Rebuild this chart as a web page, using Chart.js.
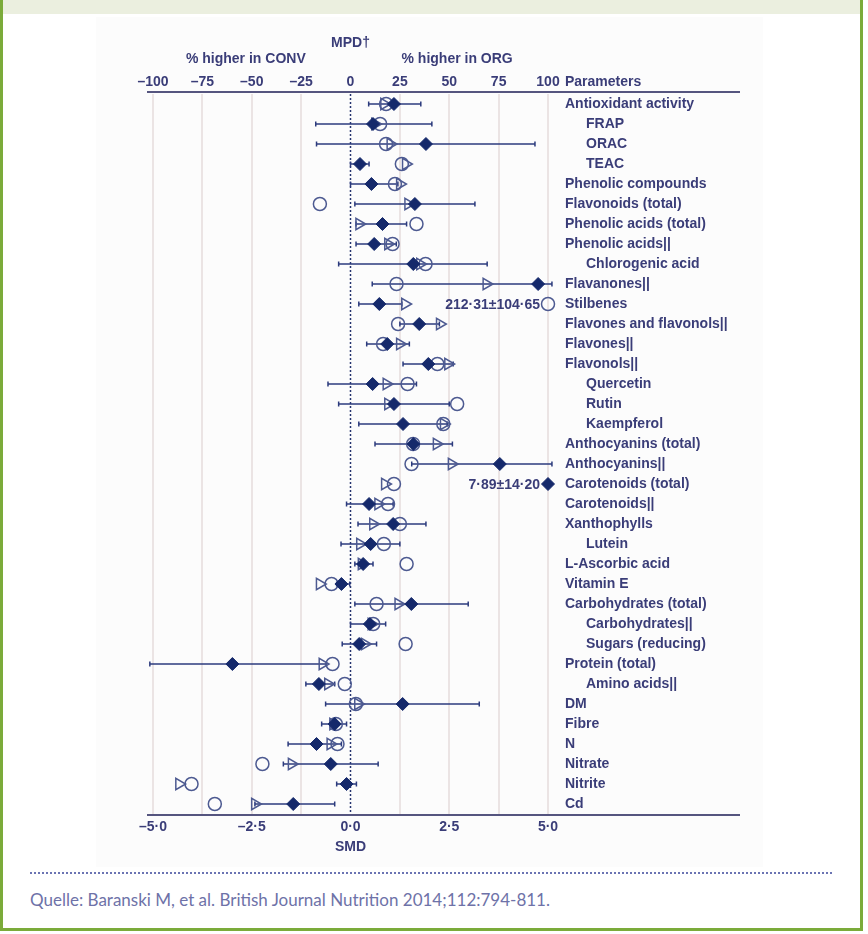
<!DOCTYPE html>
<html>
<head>
<meta charset="utf-8">
<script src="https://cdn.jsdelivr.net/npm/chart.js@4.4.1/dist/chart.umd.min.js"></script>
<style>
  html, body { margin: 0; padding: 0; background: #fff; }
  #frame { position: absolute; left: 0; top: 0; width: 863px; height: 931px; box-sizing: border-box;
           border-left: 3px solid #7bab3a; border-right: 3px solid #7bab3a; border-bottom: 3px solid #7bab3a; }
  #band { position: absolute; left: 3px; top: 0; width: 857px; height: 14px; background: #ebefdf; }
  #panel { position: absolute; left: 96px; top: 17px; width: 667px; height: 850px; background: #fcfcfc; }
  #chart { position: absolute; left: 0; top: 0; }
  #dots { position: absolute; left: 30px; top: 872px; width: 802px; border-top: 2px dotted #6b74b3; }
  #source { position: absolute; left: 30px; top: 889px; font: 17px Lato, "Open Sans", sans-serif; color: #6e72a8; }
</style>
</head>
<body>
<div id="frame"></div>
<div id="band"></div>
<div id="panel"></div>
<canvas id="chart" width="868" height="868"></canvas>
<div id="dots"></div>
<div id="source">Quelle: Baranski M, et al. British Journal Nutrition 2014;112:794-811.</div>

<script>
// parameters, top to bottom
const params = [
  'Antioxidant activity', 'FRAP', 'ORAC', 'TEAC', 'Phenolic compounds', 'Flavonoids (total)',
  'Phenolic acids (total)', 'Phenolic acids||', 'Chlorogenic acid', 'Flavanones||', 'Stilbenes',
  'Flavones and flavonols||', 'Flavones||', 'Flavonols||', 'Quercetin', 'Rutin', 'Kaempferol',
  'Anthocyanins (total)', 'Anthocyanins||', 'Carotenoids (total)', 'Carotenoids||', 'Xanthophylls',
  'Lutein', 'L-Ascorbic acid', 'Vitamin E', 'Carbohydrates (total)', 'Carbohydrates||',
  'Sugars (reducing)', 'Protein (total)', 'Amino acids||', 'DM', 'Fibre', 'N', 'Nitrate', 'Nitrite', 'Cd'
];
// sub-parameters (indented)
const subParams = ['FRAP', 'ORAC', 'TEAC', 'Chlorogenic acid', 'Quercetin', 'Rutin', 'Kaempferol',
  'Lutein', 'Carbohydrates||', 'Sugars (reducing)', 'Amino acids||'];

// weighted SMD (filled diamond) with 95% CI
const smd = [1.10, 0.57, 1.91, 0.24, 0.53, 1.63, 0.81, 0.60, 1.59, 4.75, 0.73, 1.74, 0.93, 1.97, 0.56, 1.10, 1.33,
  1.59, 3.78, 7.89, 0.47, 1.08, 0.51, 0.32, -0.23, 1.54, 0.49, 0.22, -2.99, -0.80, 1.32, -0.40, -0.86, -0.50, -0.10, -1.45];
const ciLow = [0.46, -0.88, -0.86, 0.00, 0.00, 0.11, 0.14, 0.14, -0.30, 0.55, 0.21, 1.25, 0.41, 1.33, -0.57, -0.30, 0.21,
  0.62, 1.55, null, -0.10, 0.19, -0.24, 0.11, -0.35, 0.11, 0.00, -0.21, -5.08, -1.13, -0.63, -0.73, -1.58, -1.70, -0.35, -2.42];
const ciHigh = [1.78, 2.06, 4.67, 0.47, 1.20, 3.15, 1.42, 1.16, 3.46, 5.10, 1.30, 2.25, 1.49, 2.60, 1.67, 2.50, 2.45,
  2.58, 5.10, null, 1.08, 1.91, 1.25, 0.57, -0.02, 2.98, 0.89, 0.66, -0.61, -0.40, 3.26, -0.10, -0.23, 0.70, 0.15, -0.40];
// unweighted SMD (open triangle)
const smdUnweighted = [0.85, 0.62, 1.01, 1.40, 1.25, 1.46, 0.22, 0.95, 1.76, 3.44, 1.38, 2.26, 1.25, 2.47, 0.91, 0.95, 2.36,
  2.18, 2.56, 0.87, 0.70, 0.57, 0.24, 0.28, -0.78, 1.21, 0.53, 0.36, -0.71, -0.57, 0.19, -0.44, -0.51, -1.49, -4.34, -2.42];
// mean percentage difference, % (open circle)
const mpd = [18, 15, 18, 26, 22.5, -15.5, 33.4, 21.3, 38, 23.3, 212.31, 24.1, 16.5, 44, 28.9, 54, 47,
  31.7, 30.9, 22, 19, 25, 16.9, 28.4, -9.6, 13.2, 11.5, 27.9, -9.1, -2.9, 2.7, -7.4, -6.6, -44.6, -80.5, -68.7];
// off-scale values, printed next to the clipped marker
const offScale = [
  { param: 'Stilbenes', series: 'mpd', text: '212·31±104·65' },
  { param: 'Carotenoids (total)', series: 'smd', text: '7·89±14·20' }
];

// axis ticks
const smdTicks = [-5, -3.75, -2.5, -1.25, 0, 1.25, 2.5, 3.75, 5];
const smdTickLabels = ['–5·0', '', '–2·5', '', '0·0', '', '2·5', '', '5·0'];
const mpdTicks = [-100, -75, -50, -25, 0, 25, 50, 75, 100];
const mpdTickLabels = ['–100', '–75', '–50', '–25', '0', '25', '50', '75', '100'];

const ink = '#3a3d78';
const navy = '#15296b';
const openInk = '#4d5a91';
const font = { family: '"Liberation Sans", Arial, sans-serif', size: 14, weight: 'bold' };
const fontStr = 'bold 14px "Liberation Sans", Arial, sans-serif';

const clamp = (v, lo, hi) => Math.max(lo, Math.min(hi, v));

const forest = {
  id: 'forest',
  beforeDatasetsDraw(chart) {
    const { ctx, chartArea, scales: { x, y } } = chart;
    ctx.save();
    // dotted no-effect line
    ctx.strokeStyle = '#26346f';
    ctx.lineWidth = 1.5;
    ctx.setLineDash([2, 2]);
    ctx.beginPath();
    ctx.moveTo(x.getPixelForValue(0), chartArea.top);
    ctx.lineTo(x.getPixelForValue(0), chartArea.bottom);
    ctx.stroke();
    ctx.setLineDash([]);
    // confidence intervals
    ctx.strokeStyle = '#2c3b7d';
    params.forEach((p, i) => {
      if (ciLow[i] == null) return;
      const py = y.getPixelForValue(i);
      const x0 = x.getPixelForValue(ciLow[i]);
      const x1 = x.getPixelForValue(ciHigh[i]);
      ctx.beginPath();
      ctx.moveTo(x0, py); ctx.lineTo(x1, py);
      ctx.moveTo(x0, py - 2.5); ctx.lineTo(x0, py + 2.5);
      ctx.moveTo(x1, py - 2.5); ctx.lineTo(x1, py + 2.5);
      ctx.stroke();
    });
    ctx.restore();
  },
  afterDraw(chart) {
    const { ctx, chartArea, scales: { x, xTop, y } } = chart;
    ctx.save();
    // top and bottom rules
    ctx.strokeStyle = '#55557f';
    ctx.lineWidth = 2;
    const ruleL = chartArea.left - 6, ruleR = y.left + 192;
    ctx.beginPath();
    ctx.moveTo(ruleL, chartArea.top - 2); ctx.lineTo(ruleR, chartArea.top - 2);
    ctx.moveTo(ruleL, chartArea.bottom + 1); ctx.lineTo(ruleR, chartArea.bottom + 1);
    ctx.stroke();
    // headings
    ctx.fillStyle = ink;
    ctx.font = fontStr;
    ctx.textBaseline = 'middle';
    ctx.textAlign = 'center';
    ctx.fillText('MPD†', xTop.getPixelForValue(0), 43);
    ctx.fillText('% higher in CONV', xTop.getPixelForValue(-53), 59);
    ctx.fillText('% higher in ORG', xTop.getPixelForValue(54), 59);
    ctx.textAlign = 'left';
    ctx.fillText('Parameters', y.left + 17, 82);
    // labels for clipped values
    ctx.textAlign = 'right';
    offScale.forEach(o => {
      const i = params.indexOf(o.param);
      const px = o.series === 'mpd' ? xTop.getPixelForValue(clamp(mpd[i], -100, 100))
                                    : x.getPixelForValue(clamp(smd[i], -5, 5));
      ctx.fillText(o.text, px - 8, y.getPixelForValue(i) + 1);
    });
    ctx.restore();
  }
};

const ctx = document.getElementById('chart').getContext('2d');
new Chart(ctx, {
  type: 'scatter',
  data: {
    datasets: [
      {
        label: 'SMD',
        data: params.map((p, i) => ({ x: clamp(smd[i], -5, 5), y: p })),
        pointStyle: 'rectRot',
        radius: 6.5,
        backgroundColor: navy,
        borderColor: navy,
        borderWidth: 1
      },
      {
        label: 'SMD (unweighted)',
        data: params.map((p, i) => ({ x: smdUnweighted[i], y: p })),
        pointStyle: 'triangle',
        rotation: 90,
        radius: 6.5,
        backgroundColor: 'transparent',
        borderColor: openInk,
        borderWidth: 1.5
      },
      {
        label: 'MPD',
        xAxisID: 'xTop',
        data: params.map((p, i) => ({ x: clamp(mpd[i], -100, 100), y: p })),
        pointStyle: 'circle',
        radius: 6.5,
        backgroundColor: 'transparent',
        borderColor: openInk,
        borderWidth: 1.5
      }
    ]
  },
  options: {
    responsive: false,
    animation: false,
    clip: false,
    layout: { padding: { left: 153, right: 100, top: 60, bottom: 10 } },
    plugins: { legend: { display: false }, tooltip: { enabled: false } },
    scales: {
      x: {
        type: 'linear',
        position: 'bottom',
        min: -5, max: 5,
        afterBuildTicks: s => { s.ticks = smdTicks.map(v => ({ value: v })); },
        grid: {
          drawTicks: false,
          lineWidth: 2,
          color: c => (c.tick && c.tick.value === 0) ? 'transparent' : '#ebe4e4'
        },
        border: { display: false },
        ticks: {
          padding: 5,
          color: ink,
          font: font,
          autoSkip: false,
          maxRotation: 0,
          callback: (v, i) => smdTickLabels[i]
        },
        title: { display: true, text: 'SMD', color: ink, font: font, padding: { top: 2, bottom: 2 } },
        afterFit: s => { s.height = 44; }
      },
      xTop: {
        type: 'linear',
        position: 'top',
        min: -100, max: 100,
        afterBuildTicks: s => { s.ticks = mpdTicks.map(v => ({ value: v })); },
        grid: { display: false, drawTicks: false },
        border: { display: false },
        ticks: {
          padding: 3,
          color: ink,
          font: font,
          autoSkip: false,
          maxRotation: 0,
          callback: (v, i) => mpdTickLabels[i]
        },
        afterFit: s => { s.height = 34; }
      },
      y: {
        type: 'category',
        labels: params,
        position: 'right',
        offset: true,
        grid: { display: false, drawTicks: false },
        border: { display: false },
        ticks: {
          padding: 17,
          color: ink,
          font: font,
          autoSkip: false,
          callback: (v, i) => (subParams.includes(params[i]) ? '\u2003\u2002' : '') + params[i]
        },
        afterFit: s => { s.width = 220; }
      }
    }
  },
  plugins: [forest]
});
</script>
</body>
</html>
